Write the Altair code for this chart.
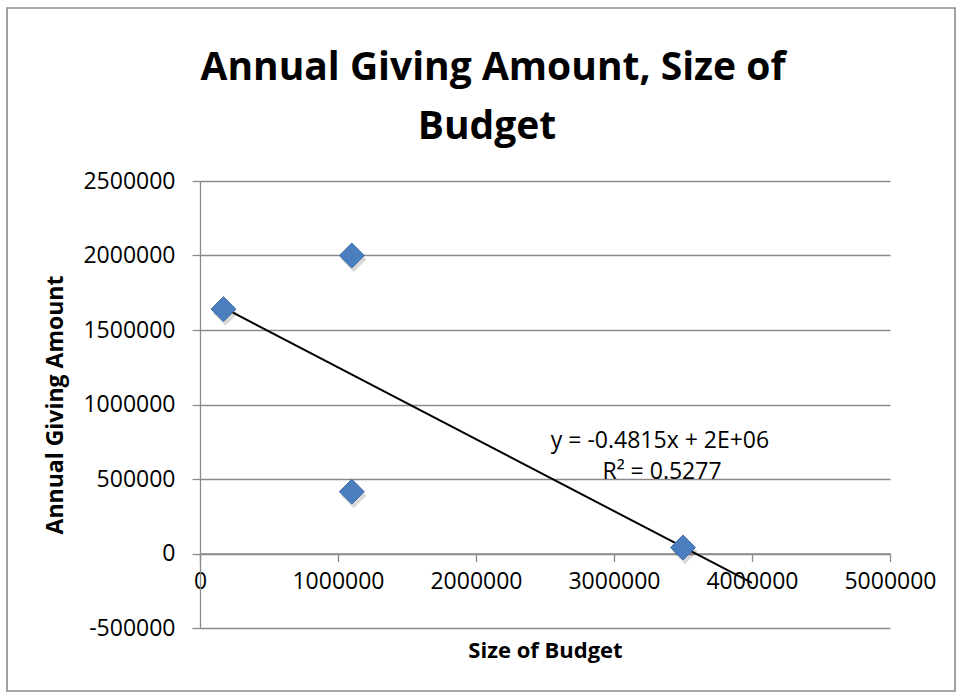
import altair as alt
import pandas as pd

# Data
budget = [170000, 1100000, 1100000, 3500000]
giving = [1640000, 2000000, 415000, 40000]
y_ticks = [-500000, 0, 500000, 1000000, 1500000, 2000000, 2500000]
x_ticks = [0, 1000000, 2000000, 3000000, 4000000, 5000000]
trend_extent = [170000, 4000000]
eq_line1 = "y = -0.4815x + 2E+06"
eq_line2 = "R² = 0.5277"
title_line1 = "Annual Giving Amount, Size of"
title_line2 = "Budget"

df = pd.DataFrame({"budget": budget, "giving": giving})

FONT = "Open Sans"
GRID = "#8a8a8a"
W, H = 690, 447
x_zero_offset = -H / 6.0  # x axis drawn where y = 0
LABEL_EXPR = "'' + datum.value"

xscale = alt.Scale(domain=[0, 5000000], nice=False, zero=False)
yscale = alt.Scale(domain=[-500000, 2500000], nice=False, zero=False)

x_enc = alt.X(
    "budget:Q",
    scale=xscale,
    axis=alt.Axis(
        title="Size of Budget",
        values=x_ticks,
        labelExpr=LABEL_EXPR,
        labelOverlap=False,
        labelFlush=False,
        grid=False,
        offset=x_zero_offset,
        domainColor=GRID,
        domainWidth=1.3,
        tickColor=GRID,
        tickWidth=1.3,
        tickSize=8,
        labelPadding=9,
        labelFontSize=23,
        labelColor="#000000",
        labelFont=FONT,
        titleFont=FONT,
        titleFontSize=22,
        titleFontWeight="bold",
        titleColor="#000000",
        titleBaseline="alphabetic",
        titleY=104,
    ),
)
y_enc = alt.Y(
    "giving:Q",
    scale=yscale,
    axis=alt.Axis(
        title="Annual Giving Amount",
        values=y_ticks,
        labelExpr=LABEL_EXPR,
        labelOverlap=False,
        labelFlush=False,
        grid=True,
        gridColor=GRID,
        gridWidth=1.3,
        domainColor=GRID,
        domainWidth=1.3,
        tickColor=GRID,
        tickWidth=1.3,
        tickSize=8,
        labelPadding=17,
        labelFontSize=23,
        labelColor="#000000",
        labelFont=FONT,
        titleFont=FONT,
        titleFontSize=23,
        titleFontWeight="bold",
        titleColor="#000000",
        titlePadding=15,
    ),
)

base = alt.Chart(df)

shadow = base.mark_point(
    shape="diamond", filled=True, size=640, color="#000000", opacity=0.15,
    xOffset=2, yOffset=4,
).encode(x=x_enc, y=y_enc)

points = base.mark_point(
    shape="diamond", filled=True, size=620, color="#4a7ebf",
    stroke="#3d6ca6", strokeWidth=1, opacity=1,
).encode(x=x_enc, y=y_enc)

trend = base.transform_regression(
    "budget", "giving", method="linear", extent=trend_extent
).mark_line(color="#000000", strokeWidth=2).encode(
    x=alt.X("budget:Q", scale=xscale),
    y=alt.Y("giving:Q", scale=yscale),
)

one = alt.Data(values=[{"k": 1}])


def label(text, x, y, size, weight="normal", baseline="middle"):
    return alt.Chart(one).mark_text(
        text=text, font=FONT, fontSize=size, fontWeight=weight, color="#000000",
        align="center", baseline=baseline,
    ).encode(x=alt.value(x), y=alt.value(y))


eq1 = label(eq_line1, 460, 260, 23)
eq2 = label(eq_line2, 462, 291, 23)
t1 = label(title_line1, 293, -101, 39, "bold", "alphabetic")
t2 = label(title_line2, 287, -42, 39, "bold", "alphabetic")

border = alt.Chart(one).mark_rect(
    fill=None, stroke=GRID, strokeWidth=1.6
).encode(
    x=alt.value(-193), x2=alt.value(755), y=alt.value(-173), y2=alt.value(510)
)

chart = alt.layer(border, trend, shadow, points, eq1, eq2, t1, t2).properties(
    width=W,
    height=H,
    padding={"left": 200, "top": 181, "right": 67, "bottom": 65},
    autosize=alt.AutoSizeParams(type="none"),
    background="#ffffff",
).configure_view(stroke=None)

chart.save("out.html", embed_options={"renderer": "svg", "actions": False})
